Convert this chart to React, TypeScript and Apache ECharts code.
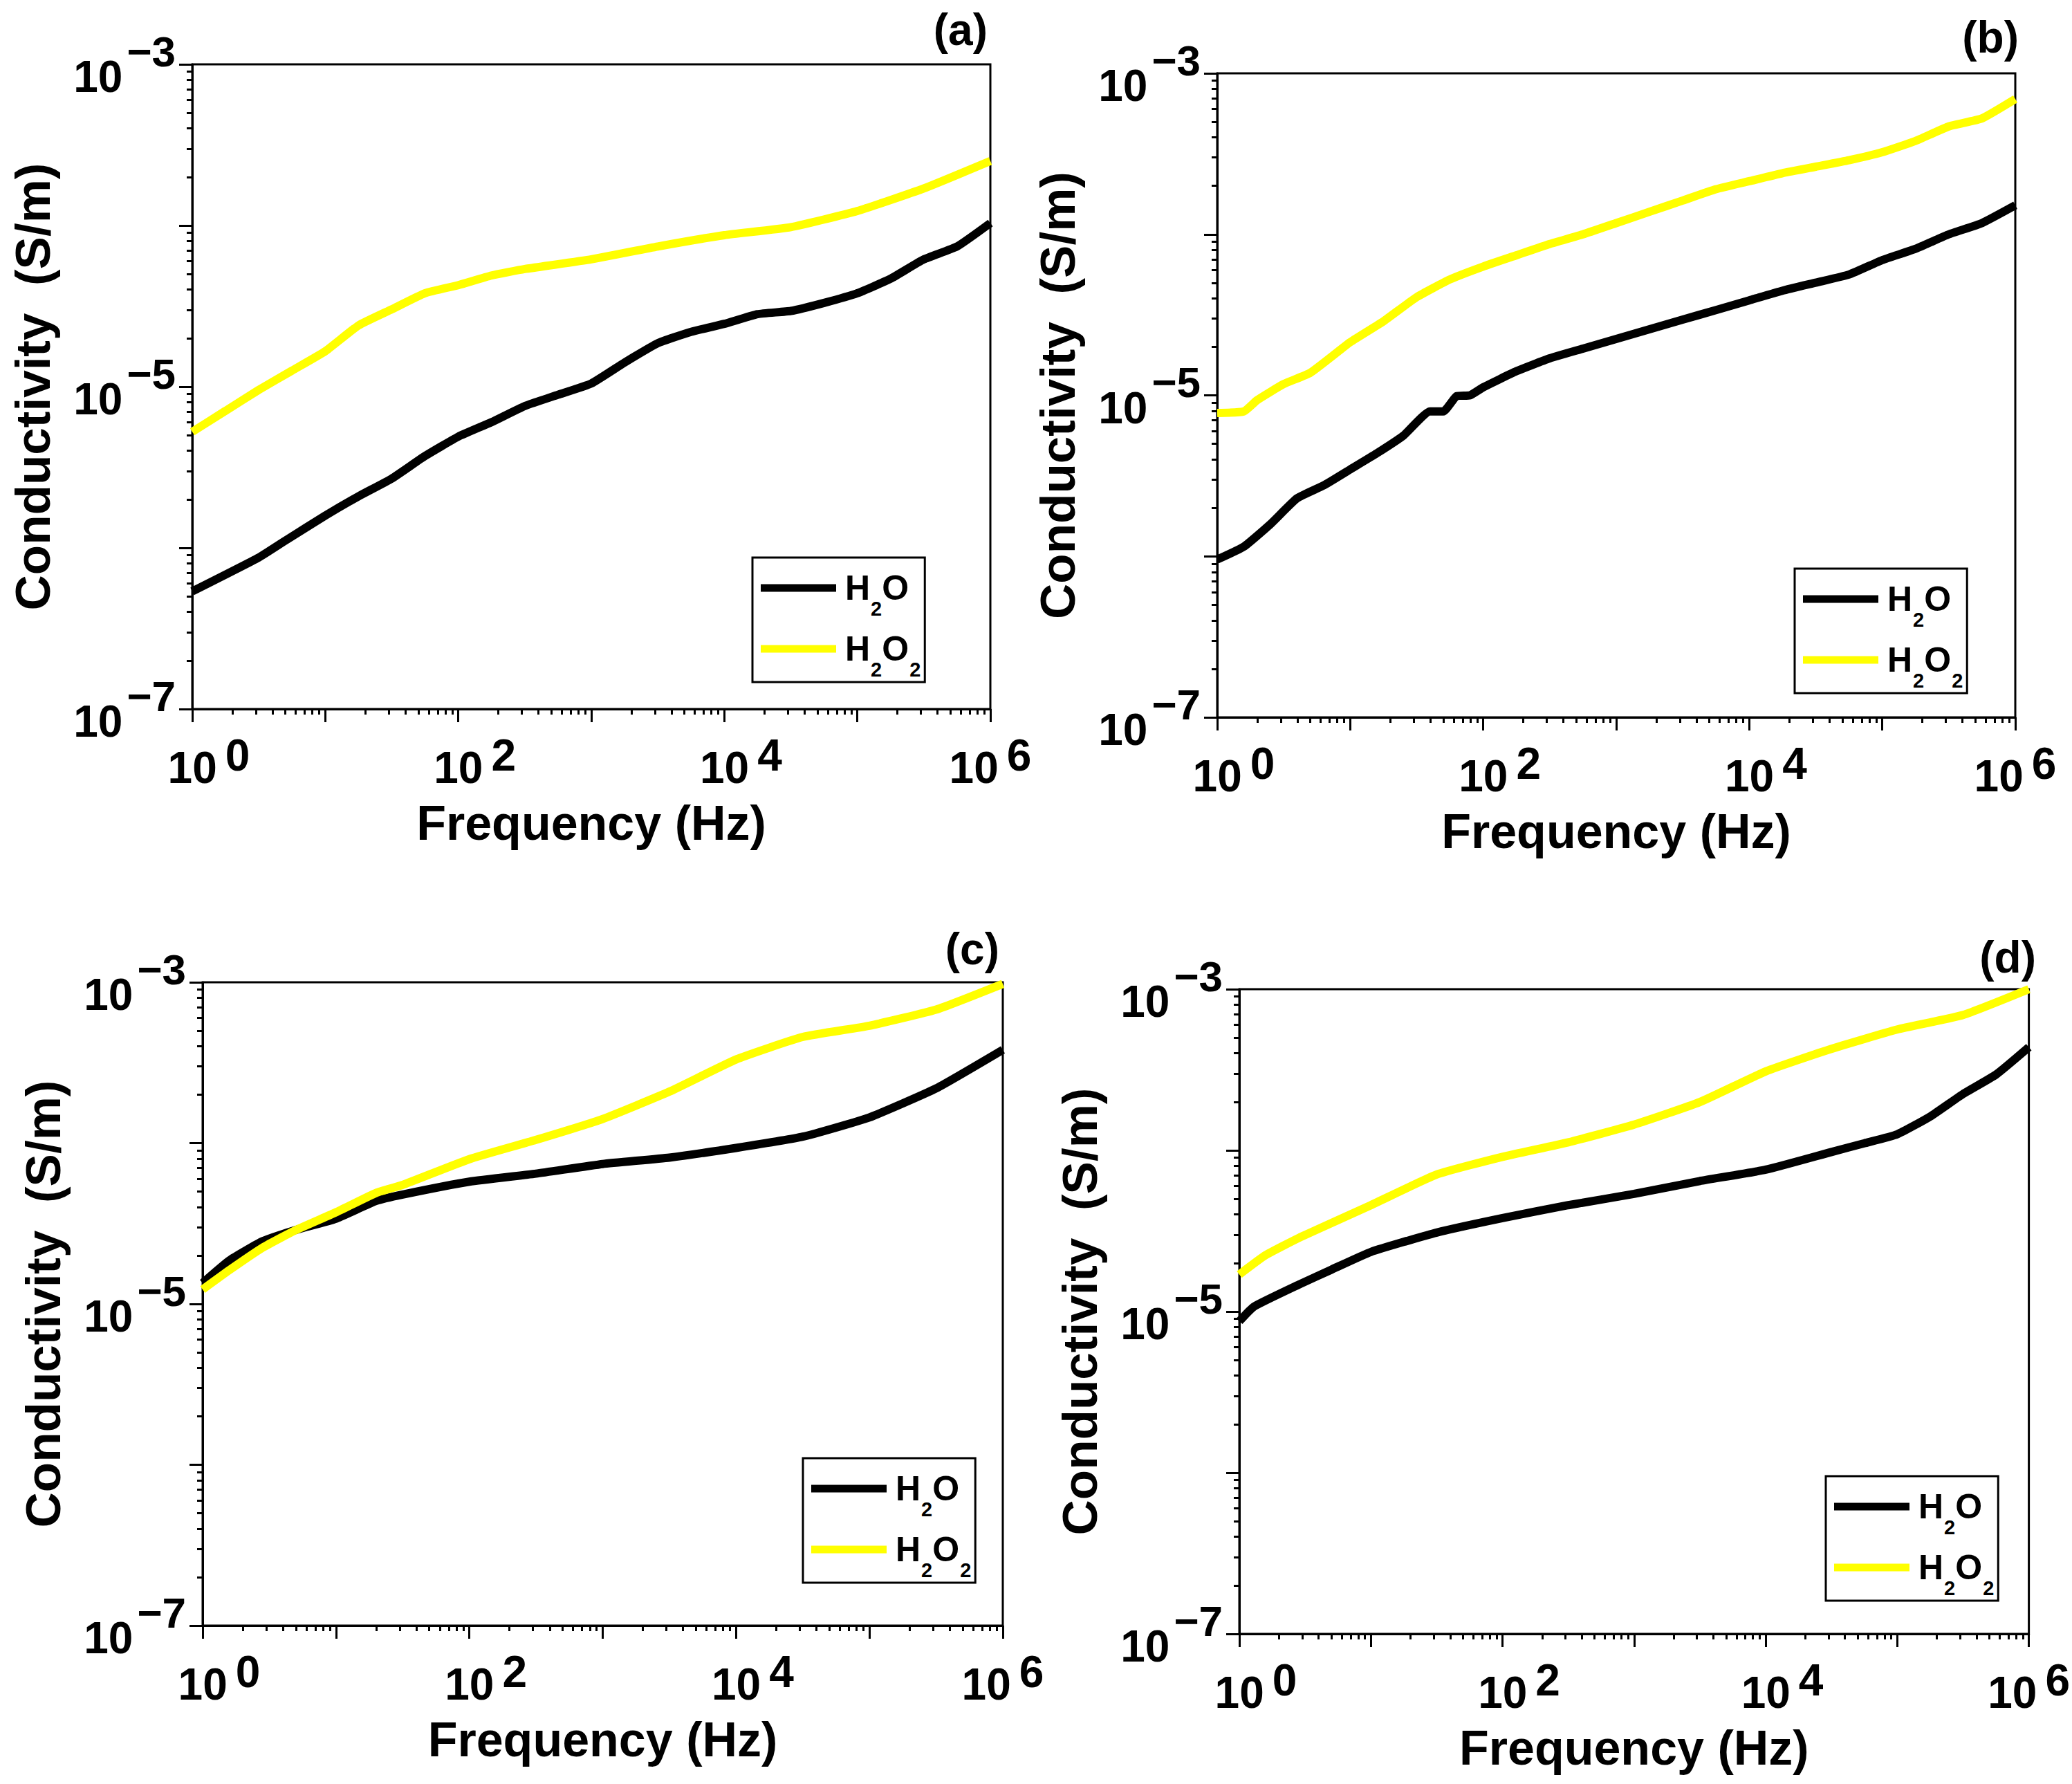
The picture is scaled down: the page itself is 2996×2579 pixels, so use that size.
import { useEffect, useRef } from 'react';
import * as echarts from 'echarts';

// x: log10(frequency / Hz), y: log10(conductivity / S m^-1)
const xLabelExps = [0, 2, 4, 6];
const yLabelExps = [-7, -5, -3];

const freqA_h2o = [0, 0.5, 0.7, 1, 1.25, 1.5, 1.75, 2, 2.25, 2.5, 2.75, 3, 3.25, 3.5, 3.75, 4, 4.25, 4.5, 4.75, 5, 5.25, 5.5, 5.75, 6];
const sigA_h2o = [-6.27, -6.06, -5.955, -5.8, -5.68, -5.57, -5.43, -5.31, -5.22, -5.12, -5.05, -4.98, -4.85, -4.73, -4.66, -4.61, -4.55, -4.53, -4.48, -4.42, -4.33, -4.21, -4.13, -3.985];
const freqA_h2o2 = [0, 0.25, 0.5, 0.75, 1, 1.25, 1.5, 1.75, 2, 2.25, 2.5, 3, 3.5, 4, 4.5, 5, 5.5, 6];
const sigA_h2o2 = [-5.28, -5.15, -5.02, -4.9, -4.78, -4.62, -4.52, -4.42, -4.37, -4.31, -4.27, -4.21, -4.13, -4.06, -4.01, -3.91, -3.77, -3.6];

const freqB_h2o = [0, 0.2, 0.4, 0.6, 0.8, 1, 1.2, 1.4, 1.6, 1.7, 1.8, 1.9, 2, 2.25, 2.5, 2.75, 3, 3.25, 3.5, 3.75, 4, 4.25, 4.5, 4.75, 5, 5.25, 5.5, 5.75, 6];
const sigB_h2o = [-6.02, -5.94, -5.8, -5.64, -5.56, -5.46, -5.36, -5.25, -5.1, -5.1, -5.005, -5.0, -4.95, -4.85, -4.77, -4.71, -4.65, -4.59, -4.53, -4.47, -4.41, -4.35, -4.3, -4.25, -4.16, -4.09, -4.0, -3.93, -3.82];
const freqB_h2o2 = [0, 0.2, 0.3, 0.5, 0.7, 1, 1.25, 1.5, 1.75, 2, 2.25, 2.5, 2.75, 3, 3.25, 3.5, 3.75, 4, 4.25, 4.5, 4.75, 5, 5.25, 5.5, 5.75, 6];
const sigB_h2o2 = [-5.11, -5.1, -5.03, -4.93, -4.86, -4.67, -4.54, -4.39, -4.28, -4.2, -4.13, -4.06, -4.0, -3.93, -3.86, -3.79, -3.72, -3.67, -3.62, -3.58, -3.54, -3.49, -3.42, -3.33, -3.28, -3.16];

const freqC = [0, 0.2, 0.45, 0.7, 1, 1.3, 1.5, 2, 2.5, 3, 3.5, 4, 4.5, 5, 5.5, 6];
const sigC_h2o = [-4.87, -4.73, -4.61, -4.54, -4.47, -4.36, -4.32, -4.24, -4.19, -4.13, -4.09, -4.03, -3.96, -3.84, -3.66, -3.42];
const sigC_h2o2 = [-4.91, -4.79, -4.65, -4.54, -4.43, -4.31, -4.26, -4.1, -3.98, -3.85, -3.68, -3.48, -3.34, -3.27, -3.17, -3.01];

const freqD_h2o = [0, 0.11, 0.46, 0.7, 1, 1.5, 2, 2.5, 3, 3.5, 4, 4.5, 4.75, 5, 5.25, 5.5, 5.75, 6];
const sigD_h2o = [-5.06, -4.97, -4.83, -4.74, -4.63, -4.51, -4.42, -4.34, -4.27, -4.19, -4.12, -4.01, -3.956, -3.9, -3.79, -3.65, -3.53, -3.36];
const freqD_h2o2 = [0, 0.2, 0.46, 1, 1.5, 2, 2.5, 3, 3.5, 4, 4.5, 5, 5.5, 6];
const sigD_h2o2 = [-4.77, -4.65, -4.54, -4.34, -4.15, -4.04, -3.95, -3.84, -3.7, -3.51, -3.37, -3.25, -3.16, -3.0];

const FONT = 'Liberation Sans, Arial, sans-serif';

const panels = [
    { tag: '(a)', h2o: [freqA_h2o, sigA_h2o], h2o2: [freqA_h2o2, sigA_h2o2] },
    { tag: '(b)', h2o: [freqB_h2o, sigB_h2o], h2o2: [freqB_h2o2, sigB_h2o2] },
    { tag: '(c)', h2o: [freqC, sigC_h2o], h2o2: [freqC, sigC_h2o2] },
    { tag: '(d)', h2o: [freqD_h2o, sigD_h2o], h2o2: [freqD_h2o2, sigD_h2o2] },
];

// pixel layout of each panel
const layout = [
    { grid: { left: 278, top: 93, width: 1154, height: 932 }, legend: { left: 1088, top: 806 }, tag: { x: 1428, y: 43 } },
    { grid: { left: 1760, top: 106, width: 1154, height: 931 }, legend: { left: 2595, top: 822 }, tag: { x: 2919, y: 54 } },
    { grid: { left: 293, top: 1420, width: 1157, height: 930 }, legend: { left: 1161, top: 2108 }, tag: { x: 1445, y: 1372 } },
    { grid: { left: 1792, top: 1430, width: 1154, height: 932 }, legend: { left: 2640, top: 2134 }, tag: { x: 2944, y: 1384 } },
];

const minorX: number[] = [];
for (let d = 0; d < 6; d++) for (let k = 2; k <= 9; k++) minorX.push(d + Math.log10(k));
const minorY: number[] = [];
for (let d = -7; d < -3; d++) for (let k = 2; k <= 9; k++) minorY.push(d + Math.log10(k));

const tickLine = { color: '#000', width: 3 };
const boldText = { fontWeight: 'bold', fontFamily: FONT, color: '#000' };

function toPoints(xs: number[], ys: number[]) {
    return xs.map((x, i) => [x, ys[i]]);
}

function buildOption(): echarts.EChartsOption {
    const grid: any[] = [];
    const xAxis: any[] = [];
    const yAxis: any[] = [];
    const legend: any[] = [];
    const series: any[] = [];
    const graphic: any[] = [];

    panels.forEach((p, i) => {
        const l = layout[i];
        grid.push({ ...l.grid, show: true, borderColor: '#000', borderWidth: 3, containLabel: false });

        xAxis.push({
            type: 'value', gridIndex: i, min: 0, max: 6, interval: 1, position: 'bottom',
            name: 'Frequency (Hz)', nameLocation: 'middle', nameGap: 130,
            nameTextStyle: { fontSize: 70, ...boldText },
            axisLine: { show: true, lineStyle: tickLine },
            axisTick: { show: true, inside: false, length: 19, lineStyle: tickLine },
            splitLine: { show: false },
            axisLabel: {
                margin: 35, color: '#000',
                formatter: (v: number) => {
                    if (!xLabelExps.includes(v)) return '';
                    // the last label is pulled in a little, as in the figure
                    return v === 6 ? `{b|10}{s|${v}}` : `{p| }{b|10}{s|${v}}`;
                },
                rich: {
                    p: { width: 48, fontSize: 64, lineHeight: 100, fontFamily: FONT },
                    b: { fontSize: 64, lineHeight: 100, verticalAlign: 'middle', ...boldText },
                    s: { fontSize: 64, lineHeight: 64, verticalAlign: 'top', padding: [0, 0, 0, 12], ...boldText },
                },
            },
        });
        xAxis.push({
            type: 'value', gridIndex: i, min: 0, max: 6, position: 'bottom', offset: 0,
            axisLine: { show: false }, axisLabel: { show: false }, splitLine: { show: false },
            axisTick: { show: true, inside: false, length: 8, lineStyle: tickLine, customValues: minorX },
        });

        yAxis.push({
            type: 'value', gridIndex: i, min: -7, max: -3, interval: 1, position: 'left',
            name: 'Conductivity\u00a0 (S/m)', nameLocation: 'middle', nameGap: 195,
            nameTextStyle: { fontSize: 71, ...boldText },
            axisLine: { show: true, lineStyle: tickLine },
            axisTick: { show: true, inside: false, length: 19, lineStyle: tickLine },
            splitLine: { show: false },
            axisLabel: {
                margin: 24, color: '#000',
                formatter: (v: number) => (yLabelExps.includes(v) ? `{z| }{b|10}{s|\u2212${-v}}` : ''),
                rich: {
                    z: { width: 1, fontSize: 64, lineHeight: 100, fontFamily: FONT },
                    b: { fontSize: 64, lineHeight: 80, verticalAlign: 'bottom', ...boldText },
                    s: { fontSize: 62, lineHeight: 65, verticalAlign: 'top', padding: [0, 0, 0, 6], ...boldText },
                },
            },
        });
        yAxis.push({
            type: 'value', gridIndex: i, min: -7, max: -3, position: 'left', offset: 0,
            axisLine: { show: false }, axisLabel: { show: false }, splitLine: { show: false },
            axisTick: { show: true, inside: false, length: 8, lineStyle: tickLine, customValues: minorY },
        });

        const nH2O = `H2O ${p.tag}`;
        const nH2O2 = `H2O2 ${p.tag}`;
        series.push({
            type: 'line', name: nH2O, xAxisIndex: 2 * i, yAxisIndex: 2 * i,
            data: toPoints(p.h2o[0], p.h2o[1]), showSymbol: false, symbol: 'none',
            smooth: 0.15,
            lineStyle: { color: '#000000', width: 12 }, itemStyle: { color: '#000000' },
        });
        series.push({
            type: 'line', name: nH2O2, xAxisIndex: 2 * i, yAxisIndex: 2 * i,
            data: toPoints(p.h2o2[0], p.h2o2[1]), showSymbol: false, symbol: 'none',
            smooth: 0.15,
            lineStyle: { color: '#ffff00', width: 12 }, itemStyle: { color: '#ffff00' },
        });

        const txt = { fontSize: 50, lineHeight: 50, verticalAlign: 'middle', ...boldText };
        legend.push({
            show: true, orient: 'vertical', left: l.legend.left, top: l.legend.top,
            data: [nH2O, nH2O2], icon: 'rect', itemWidth: 109, itemHeight: 11, itemGap: 0,
            padding: [0, 6, 4, 12], borderColor: '#000', borderWidth: 3, backgroundColor: '#fff',
            selectedMode: false,
            formatter: (name: string) => (name.startsWith('H2O2') ? '{h|H}{s|2}{m|O}{s|2}' : '{h|H}{s|2}{m|O}'),
            textStyle: {
                rich: {
                    h: { ...txt, padding: [0, 0, 0, 8] },
                    m: txt,
                    s: { fontSize: 29, lineHeight: 29, verticalAlign: 'middle', padding: [59, 0, 0, 1], ...boldText },
                },
            },
        });

        graphic.push({
            type: 'text', x: l.tag.x, y: l.tag.y,
            style: { text: p.tag, fontSize: 64, fontWeight: 'bold', fontFamily: FONT, fill: '#000', align: 'right', verticalAlign: 'middle' },
        });
    });

    return { animation: false, backgroundColor: '#fff', grid, xAxis, yAxis, legend, series, graphic };
}

export default function App() {
    const chartRef = useRef<HTMLDivElement>(null);

    useEffect(() => {
        if (!chartRef.current) return;
        document.body.style.margin = '0';
        const chart = echarts.init(chartRef.current, undefined, { renderer: 'svg' });
        chart.setOption(buildOption());
        return () => {
            chart.dispose();
        };
    }, []);

    return <div ref={chartRef} style={{ width: '2996px', height: '2579px' }} />;
}
